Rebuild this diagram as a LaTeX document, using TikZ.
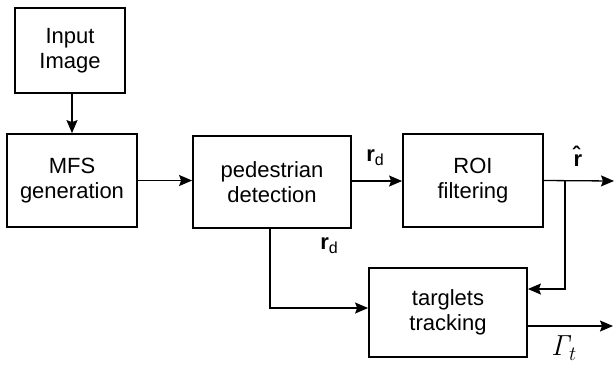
\documentclass[tikz,border=0pt]{standalone}
\usepackage[no-math]{fontspec}
\setmainfont{Liberation Sans}
\usetikzlibrary{arrows.meta,calc}
\begin{document}
\begin{tikzpicture}[x=1pt,y=-1pt,
  blk/.style={draw,line width=1.8pt,inner sep=0pt,align=center,
    font=\fontsize{22}{25}\selectfont},
  arr/.style={line width=1.3pt,-{Stealth[length=13pt,width=11pt,inset=2pt]}},
  lbl/.style={inner sep=0pt,font=\fontsize{22}{25}\selectfont}]
\useasboundingbox (0,0) rectangle (615,365);
\node[blk,minimum width=110pt,minimum height=85pt] (in) at (70,50.5) {Input\\Image};
\node[blk,minimum width=130pt,minimum height=93pt] (mfs) at (72,180.5) {MFS\\generation};
\node[blk,minimum width=158pt,minimum height=92pt] (ped) at (272,182) {pedestrian\\detection};
\node[blk,minimum width=140pt,minimum height=93pt] (roi) at (473,180.5) {ROI\\filtering};
\node[blk,minimum width=158pt,minimum height=89pt] (trk) at (448,312.5) {targlets\\tracking};
\coordinate (rout) at (614,181);
\coordinate (split) at (565,181);
\coordinate (tout) at (613,326);
\draw[arr] ([xshift=2pt]in.south) -- ([xshift=2pt]in.south |- mfs.north);
\draw[arr] (mfs.east) -- (mfs.east -| ped.west);
\draw[arr] ([yshift=1pt]ped.east) -- ([yshift=1pt]ped.east -| roi.west);
\draw[arr] (roi.east) -- (rout);
\draw[arr] (split) |- ([yshift=23.5pt]trk.east);
\draw[arr] ([xshift=-2pt]ped.south) |- ([yshift=4.5pt]trk.west);
\draw[arr] ([yshift=-13.5pt]trk.east) -- (tout);
\node[lbl] (l1) at (375,158) {\textbf{r}\raisebox{-0.35ex}{\fontsize{16}{16}\selectfont d}};
\node[lbl] (l2) at (329,246) {\textbf{r}\raisebox{-0.35ex}{\fontsize{16}{16}\selectfont d}};
\node[lbl] (l3) at (580,156) {\textbf{\^{r}}};
\node[lbl] (l4) at (564,348) {\scalebox{1.4}{$\mathit{\Gamma}_{t}$}};
\end{tikzpicture}
\end{document}
